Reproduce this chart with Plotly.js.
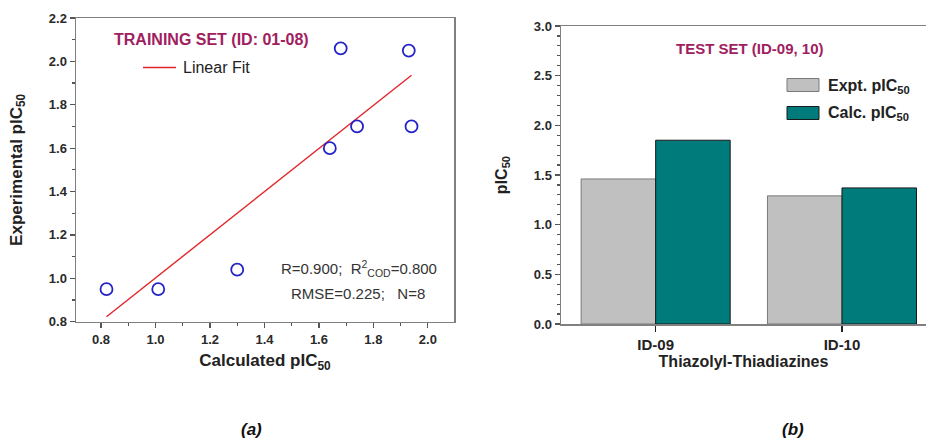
<!DOCTYPE html>
<html>
<head>
<meta charset="utf-8">
<script src="https://cdn.plot.ly/plotly-3.0.1.min.js"></script>
<style>
html,body{margin:0;padding:0;background:#fff;overflow:hidden;}
#chart{width:926px;height:438px;}
</style>
</head>
<body>
<div id="chart"></div>
<script>
// ---- Data (a) training set ----
const calcTrain = [0.82, 1.01, 1.30, 1.64, 1.68, 1.74, 1.93, 1.94];
const exptTrain = [0.95, 0.95, 1.04, 1.60, 2.06, 1.70, 2.05, 1.70];

// ---- Data (b) test set ----
const testIds = ['ID-09', 'ID-10'];
const exptTest = [1.46, 1.29];
const calcTest = [1.85, 1.37];

// ---- Texts ----
const titleA = 'TRAINING SET (ID: 01-08)';
const titleB = 'TEST SET (ID-09, 10)';
const statLine1 = 'R=0.900;\u00a0\u00a0R<sup>2</sup><sub>COD</sub>=0.800';
const statLine2 = 'RMSE=0.225;\u00a0\u00a0\u00a0N=8';

// least-squares linear fit computed from the data
const n = calcTrain.length;
const mx = calcTrain.reduce((a,b)=>a+b,0)/n;
const my = exptTrain.reduce((a,b)=>a+b,0)/n;
let sxy = 0, sxx = 0;
for (let i=0;i<n;i++){ sxy += (calcTrain[i]-mx)*(exptTrain[i]-my); sxx += (calcTrain[i]-mx)**2; }
const slope = sxy/sxx, intercept = my - slope*mx;
const fitX = [Math.min(...calcTrain), Math.max(...calcTrain)];
const fitY = fitX.map(x => intercept + slope*x);

const FONT = 'Liberation Sans, Arial, Helvetica, sans-serif';
const W = 926, H = 438;
const px = v => v/W, py = v => 1 - v/H;

const traces = [
  {x: fitX, y: fitY, type:'scatter', mode:'lines', line:{color:'#e0262b', width:1.4},
   xaxis:'x', yaxis:'y', showlegend:false, hoverinfo:'skip'},
  {x: calcTrain, y: exptTrain, type:'scatter', mode:'markers',
   marker:{symbol:'circle-open', size:12, color:'#2323c8', line:{width:1.8, color:'#2323c8'}},
   xaxis:'x', yaxis:'y', showlegend:false},
  {x: testIds, y: exptTest, type:'bar', name:'Expt. pIC50', marker:{color:'#c0c0c0', line:{color:'#7a7a7a', width:1}},
   xaxis:'x2', yaxis:'y2', showlegend:false},
  {x: testIds, y: calcTest, type:'bar', name:'Calc. pIC50', marker:{color:'#007b7b', line:{color:'#1a1a1a', width:1}},
   xaxis:'x2', yaxis:'y2', showlegend:false}
];

const axBase = {showgrid:false, zeroline:false, showline:true, linecolor:'#808080', linewidth:1.5,
  ticks:'outside', tickcolor:'#555', tickwidth:1.2, fixedrange:true,
  tickfont:{family:FONT, size:13, color:'#2a2a2a', weight:'bold'}};

const layout = {
  width:W, height:H, margin:{l:0,r:0,t:0,b:0}, paper_bgcolor:'#fff', plot_bgcolor:'#fff',
  font:{family:FONT, color:'#222'},
  barmode:'group', bargap:0.2, bargroupgap:0,
  xaxis: Object.assign({}, axBase, {
    domain:[px(76), px(454)], range:[0.708, 2.096], dtick:0.2, tick0:0, tickformat:'.1f',
    mirror:true, ticklen:5, minor:{dtick:0.1, ticks:'outside', ticklen:3, tickcolor:'#555'},
    anchor:'y',
    title:{text:'Calculated pIC<sub>50</sub>', font:{family:FONT, size:17, color:'#222', weight:'bold'}, standoff:8}
  }),
  yaxis: Object.assign({}, axBase, {
    domain:[1-321.7/H, 1-18/H], range:[0.8, 2.2], dtick:0.2, tick0:0, tickformat:'.1f',
    mirror:true, ticklen:5, minor:{dtick:0.1, ticks:'outside', ticklen:3, tickcolor:'#555'},
    anchor:'x',
    title:{text:'Experimental pIC<sub>50</sub>', font:{family:FONT, size:17, color:'#222', weight:'bold'}, standoff:22}
  }),
  xaxis2: Object.assign({}, axBase, {
    domain:[px(561), 1], range:[-0.508, 1.451], type:'category', mirror:true, ticklen:6, tickcolor:'#222',
    anchor:'y2',
    tickfont:{family:FONT, size:15, color:'#222', weight:'bold'},
    title:{text:'Thiazolyl-Thiadiazines', font:{family:FONT, size:16, color:'#222', weight:'bold'}, standoff:4}
  }),
  yaxis2: Object.assign({}, axBase, {
    domain:[1-324/H, 1-26/H], range:[0, 3], dtick:0.5, tick0:0, tickformat:'.1f', ticklen:5,
    minor:{dtick:0.1, ticks:'outside', ticklen:3, tickcolor:'#555'},
    anchor:'x2',
    title:{text:'pIC<sub>50</sub>', font:{family:FONT, size:16, color:'#222', weight:'bold'}, standoff:22}
  }),
  shapes: [
    {type:'line', xref:'paper', yref:'paper', x0:px(143), x1:px(176), y0:py(67.5), y1:py(67.5), line:{color:'#e0262b', width:1.4}},
    {type:'rect', xref:'paper', yref:'paper', x0:px(787), x1:px(819), y0:py(78.5), y1:py(91.5), fillcolor:'#c0c0c0', line:{color:'#7a7a7a', width:1}},
    {type:'rect', xref:'paper', yref:'paper', x0:px(787), x1:px(819), y0:py(106.5), y1:py(119.5), fillcolor:'#007b7b', line:{color:'#1a1a1a', width:1}}
  ],
  annotations: [
    {xref:'paper', yref:'paper', x:px(211), y:py(39), text:titleA, showarrow:false, xanchor:'center', yanchor:'middle',
     font:{family:FONT, size:16, color:'#a0205f', weight:'bold'}},
    {xref:'paper', yref:'paper', x:px(181), y:py(67.5), text:'Linear Fit', showarrow:false, xanchor:'left', yanchor:'middle',
     font:{family:FONT, size:16, color:'#222'}},
    {xref:'paper', yref:'paper', x:px(359), y:py(268), text:statLine1, showarrow:false, xanchor:'center', yanchor:'middle',
     font:{family:FONT, size:15, color:'#333'}},
    {xref:'paper', yref:'paper', x:px(358), y:py(293), text:statLine2, showarrow:false, xanchor:'center', yanchor:'middle',
     font:{family:FONT, size:15, color:'#333'}},
    {xref:'paper', yref:'paper', x:px(750), y:py(48), text:titleB, showarrow:false, xanchor:'center', yanchor:'middle',
     font:{family:FONT, size:15, color:'#a0205f', weight:'bold'}},
    {xref:'paper', yref:'paper', x:px(826), y:py(86), text:'Expt. pIC<sub>50</sub>', showarrow:false, xanchor:'left', yanchor:'middle',
     font:{family:FONT, size:16, color:'#222', weight:'bold'}},
    {xref:'paper', yref:'paper', x:px(826), y:py(114), text:'Calc. pIC<sub>50</sub>', showarrow:false, xanchor:'left', yanchor:'middle',
     font:{family:FONT, size:16, color:'#222', weight:'bold'}},
    {xref:'paper', yref:'paper', x:px(251), y:py(429), text:'(a)', showarrow:false, xanchor:'center', yanchor:'middle',
     font:{family:FONT, size:17, color:'#111', weight:'bold', style:'italic'}},
    {xref:'paper', yref:'paper', x:px(793), y:py(429), text:'(b)', showarrow:false, xanchor:'center', yanchor:'middle',
     font:{family:FONT, size:17, color:'#111', weight:'bold', style:'italic'}}
  ]
};

Plotly.newPlot('chart', traces, layout, {displayModeBar:false, staticPlot:true});
</script>
</body>
</html>
